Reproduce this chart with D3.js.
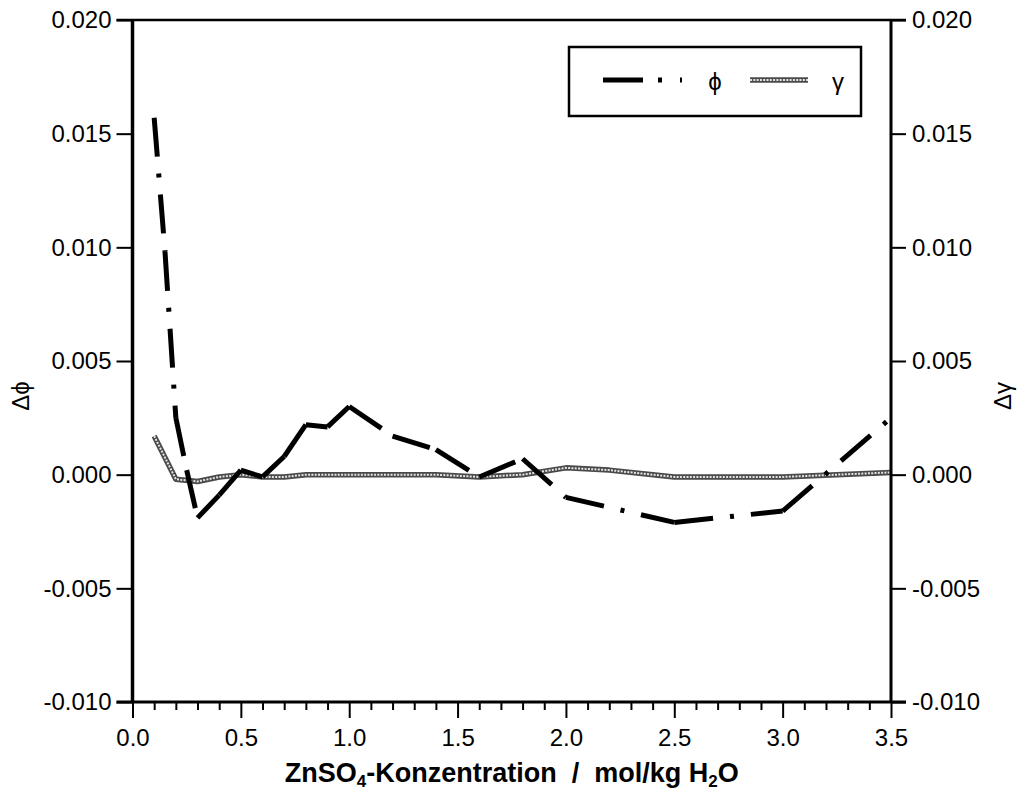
<!DOCTYPE html>
<html>
<head>
<meta charset="utf-8">
<script src="https://cdn.jsdelivr.net/npm/d3@7"></script>
<style>
  html, body { margin: 0; padding: 0; background: #fff; }
  svg { display: block; }
  text { font-family: "Liberation Sans", Arial, Helvetica, sans-serif; fill: #000; }
</style>
</head>
<body>
<svg id="chart" width="1023" height="791"></svg>
<script>
// ---- data ----
const phiX   = [0.1, 0.15, 0.2, 0.25, 0.3, 0.4, 0.5, 0.6, 0.7, 0.8, 0.9, 1.0, 1.2, 1.4, 1.6, 1.8, 2.0, 2.5, 3.0, 3.5];
const phiY   = [0.0157, 0.0098, 0.0025, 0.0002, -0.0019, -0.0009, 0.0002, -0.0001, 0.0008, 0.0022, 0.0021, 0.0030, 0.0017, 0.0011, -0.0001, 0.0007, -0.0010, -0.0021, -0.0016, 0.0025];
const gammaX = [0.1, 0.2, 0.3, 0.4, 0.5, 0.6, 0.7, 0.8, 0.9, 1.0, 1.2, 1.4, 1.6, 1.8, 2.0, 2.2, 2.5, 3.0, 3.5];
const gammaY = [0.0017, -0.0002, -0.0003, -0.0001, 0.0000, -0.0001, -0.0001, 0.0000, 0.0000, 0.0000, 0.0000, 0.0000, -0.0001, 0.0000, 0.0003, 0.0002, -0.0001, -0.0001, 0.0001];
const xTicks = [0.0, 0.5, 1.0, 1.5, 2.0, 2.5, 3.0, 3.5];
const xMinorTicks = d3.range(0, 36).map(i => i / 10);
const yTicks = [-0.010, -0.005, 0.000, 0.005, 0.010, 0.015, 0.020];
const seriesNames = ["ϕ", "γ"];

// ---- layout ----
const L = 132.5, R = 891, T = 20, B = 702;
const svg = d3.select("#chart");
const x = d3.scaleLinear().domain([0, 3.5]).range([L, R]);
const y = d3.scaleLinear().domain([-0.010, 0.020]).range([B, T]);
const fmtY = d => d.toFixed(3);
const fmtX = d => d.toFixed(1);

// gamma line (beaded grey)
const gammaData = gammaX.map((v, i) => [v, gammaY[i]]);
const line = d3.line().x(d => x(d[0])).y(d => y(d[1]));
svg.append("path").attr("d", line(gammaData))
  .attr("fill", "none").attr("stroke", "#4a4a4a").attr("stroke-width", 5.5)
  .attr("stroke-linejoin", "round");
svg.append("path").attr("d", line(gammaData))
  .attr("fill", "none").attr("stroke", "#e4e4e4").attr("stroke-width", 2)
  .attr("stroke-dasharray", "2,1.3");

// phi line: dash-dot, pattern restarts at each data point
const phiData = phiX.map((v, i) => [v, phiY[i]]);
const phiDash = "39,17,4,17";
d3.pairs(phiData).forEach(seg => {
  svg.append("path").attr("d", line(seg))
    .attr("fill", "none").attr("stroke", "#000").attr("stroke-width", 5)
    .attr("stroke-dasharray", phiDash).attr("stroke-linecap", "butt");
});

// ---- axes ----
const axStyle = g => {
  g.select(".domain").remove();
  g.selectAll(".tick line").attr("stroke", "#000").attr("stroke-width", 2);
  g.selectAll(".tick text").style("font-size", "24px")
    .style("font-family", '"Liberation Sans", Arial, sans-serif').attr("fill", "#000");
};
svg.append("g").attr("transform", `translate(${L},0)`)
  .call(d3.axisLeft(y).tickValues(yTicks).tickSize(16).tickPadding(5).tickFormat(fmtY)).call(axStyle);
svg.append("g").attr("transform", `translate(${R},0)`)
  .call(d3.axisRight(y).tickValues(yTicks).tickSize(15).tickPadding(6).tickFormat(fmtY)).call(axStyle);
svg.append("g").attr("transform", `translate(0,${B})`)
  .call(d3.axisBottom(x).tickValues(xMinorTicks.filter(v => Math.abs(v * 2 - Math.round(v * 2)) > 1e-6)).tickSize(8).tickFormat(""))
  .call(axStyle);
svg.append("g").attr("transform", `translate(0,${B})`)
  .call(d3.axisBottom(x).tickValues(xTicks).tickSize(16).tickPadding(11).tickFormat(fmtX)).call(axStyle);

// frame
svg.append("line").attr("x1", L).attr("x2", L).attr("y1", T).attr("y2", B).attr("stroke", "#000").attr("stroke-width", 3.5);
svg.append("line").attr("x1", R).attr("x2", R).attr("y1", T).attr("y2", B).attr("stroke", "#000").attr("stroke-width", 3);
svg.append("line").attr("x1", L - 16).attr("x2", R + 15).attr("y1", T).attr("y2", T).attr("stroke", "#000").attr("stroke-width", 2.5);
svg.append("line").attr("x1", L - 16).attr("x2", R + 15).attr("y1", B).attr("y2", B).attr("stroke", "#000").attr("stroke-width", 3);

// axis titles
const xt = svg.append("text").attr("x", (L + R) / 2).attr("y", 782).attr("text-anchor", "middle")
  .style("font-size", "27px").style("font-weight", "bold").style("white-space", "pre");
xt.append("tspan").text("ZnSO");
xt.append("tspan").text("4").attr("dy", 5).style("font-size", "17px");
xt.append("tspan").text("-Konzentration  /  mol/kg H").attr("dy", -5);
xt.append("tspan").text("2").attr("dy", 5).style("font-size", "17px");
xt.append("tspan").text("O").attr("dy", -5);

svg.append("text").attr("transform", "translate(29,396) rotate(-90)").attr("text-anchor", "middle")
  .style("font-size", "24px").text("Δϕ");
svg.append("text").attr("transform", "translate(1011,396) rotate(-90)").attr("text-anchor", "middle")
  .style("font-size", "24px").text("Δγ");

// legend
const lg = svg.append("g");
lg.append("rect").attr("x", 569).attr("y", 47).attr("width", 292).attr("height", 69)
  .attr("fill", "#fff").attr("stroke", "#000").attr("stroke-width", 2.5);
lg.append("line").attr("x1", 603).attr("x2", 690).attr("y1", 80).attr("y2", 80)
  .attr("stroke", "#000").attr("stroke-width", 5).attr("stroke-dasharray", "40,15,4,18,2,100");
lg.append("text").attr("x", 715).attr("y", 90).attr("text-anchor", "middle").style("font-size", "24px").text(seriesNames[0]);
lg.append("line").attr("x1", 750).attr("x2", 808).attr("y1", 80).attr("y2", 80)
  .attr("stroke", "#4a4a4a").attr("stroke-width", 5.5);
lg.append("line").attr("x1", 750).attr("x2", 808).attr("y1", 80).attr("y2", 80)
  .attr("stroke", "#e4e4e4").attr("stroke-width", 2).attr("stroke-dasharray", "2,1.3");
lg.append("text").attr("x", 838).attr("y", 90).attr("text-anchor", "middle").style("font-size", "24px").text(seriesNames[1]);
</script>
</body>
</html>
